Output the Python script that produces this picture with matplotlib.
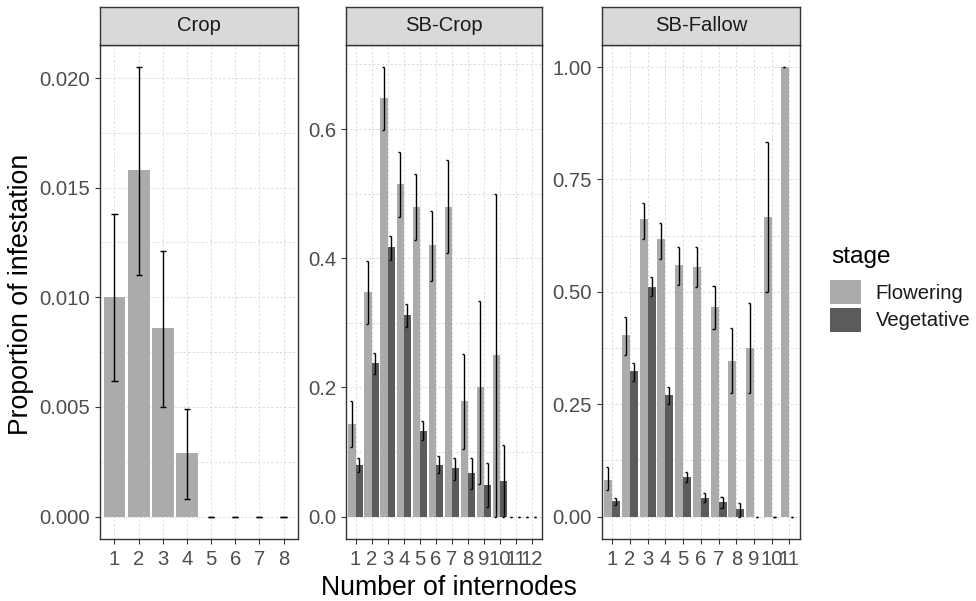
import matplotlib
matplotlib.use("Agg")
import matplotlib.pyplot as plt
from matplotlib.patches import Patch
from matplotlib.ticker import MultipleLocator, FormatStrFormatter
import numpy as np

plt.rcParams['font.family'] = ['Liberation Sans', 'DejaVu Sans']

# ---- data -------------------------------------------------------------
stages = ["Flowering", "Vegetative"]
stage_colors = {"Flowering": "#ABABAB", "Vegetative": "#5B5B5B"}

# Crop (flowering only)
crop_internodes = [1, 2, 3, 4, 5, 6, 7, 8]
crop_flower = [0.0100, 0.0158, 0.0086, 0.0029, 0.0, 0.0, 0.0, 0.0]
crop_flower_lo = [0.0062, 0.0110, 0.0050, 0.0008, 0.0, 0.0, 0.0, 0.0]
crop_flower_hi = [0.0138, 0.0205, 0.0121, 0.0049, 0.0, 0.0, 0.0, 0.0]

# SB-Crop
sbcrop_internodes = [1, 2, 3, 4, 5, 6, 7, 8, 9, 10, 11, 12]
sbcrop_flower = [0.144, 0.347, 0.648, 0.515, 0.480, 0.420, 0.480, 0.179, 0.200, 0.250, 0.0, 0.0]
sbcrop_flower_lo = [0.108, 0.298, 0.598, 0.464, 0.428, 0.364, 0.408, 0.104, 0.050, 0.000, 0.0, 0.0]
sbcrop_flower_hi = [0.179, 0.396, 0.696, 0.565, 0.530, 0.473, 0.552, 0.252, 0.334, 0.500, 0.0, 0.0]
sbcrop_veg = [0.080, 0.237, 0.418, 0.312, 0.133, 0.080, 0.075, 0.067, 0.049, 0.055, 0.0, 0.0]
sbcrop_veg_lo = [0.069, 0.220, 0.397, 0.294, 0.118, 0.068, 0.057, 0.042, 0.014, 0.000, 0.0, 0.0]
sbcrop_veg_hi = [0.090, 0.253, 0.435, 0.329, 0.148, 0.093, 0.090, 0.090, 0.083, 0.110, 0.0, 0.0]

# SB-Fallow
sbfallow_internodes = [1, 2, 3, 4, 5, 6, 7, 8, 9, 10, 11]
sbfallow_flower = [0.082, 0.403, 0.661, 0.617, 0.559, 0.556, 0.467, 0.346, 0.375, 0.667, 1.000]
sbfallow_flower_lo = [0.058, 0.360, 0.618, 0.573, 0.516, 0.511, 0.418, 0.275, 0.275, 0.500, 1.000]
sbfallow_flower_hi = [0.110, 0.445, 0.698, 0.653, 0.599, 0.599, 0.513, 0.420, 0.476, 0.833, 1.000]
sbfallow_veg = [0.034, 0.324, 0.511, 0.271, 0.089, 0.041, 0.032, 0.016, 0.0, 0.0, 0.0]
sbfallow_veg_lo = [0.026, 0.302, 0.491, 0.251, 0.077, 0.032, 0.018, 0.000, 0.0, 0.0, 0.0]
sbfallow_veg_hi = [0.041, 0.342, 0.533, 0.288, 0.100, 0.053, 0.044, 0.030, 0.0, 0.0, 0.0]

panels = [
    dict(title="Crop", x=crop_internodes,
         series={"Flowering": (crop_flower, crop_flower_lo, crop_flower_hi)},
         major=0.005, fmt="%.3f"),
    dict(title="SB-Crop", x=sbcrop_internodes,
         series={"Flowering": (sbcrop_flower, sbcrop_flower_lo, sbcrop_flower_hi),
                 "Vegetative": (sbcrop_veg, sbcrop_veg_lo, sbcrop_veg_hi)},
         major=0.2, fmt="%.1f"),
    dict(title="SB-Fallow", x=sbfallow_internodes,
         series={"Flowering": (sbfallow_flower, sbfallow_flower_lo, sbfallow_flower_hi),
                 "Vegetative": (sbfallow_veg, sbfallow_veg_lo, sbfallow_veg_hi)},
         major=0.25, fmt="%.2f"),
]

# ---- layout (pixels) --------------------------------------------------
W, H = 976, 601
fig = plt.figure(figsize=(W / 100, H / 100), dpi=100)
fig.patch.set_facecolor("white")

panel_x = [(100, 298), (346, 541.7), (601.7, 800)]
strip_top, panel_top, panel_bottom = 7, 44.6, 539

def fbox(x0, x1, ytop, ybot):
    return [x0 / W, 1 - ybot / H, (x1 - x0) / W, (ybot - ytop) / H]

dark = "#333333"
label_size = 14.6
grid_kw = dict(color="#DCDCDC", linewidth=0.7, linestyle=(0, (2.5, 2)))
dodge_total = 0.9

for (x0, x1), p in zip(panel_x, panels):
    ax = fig.add_axes(fbox(x0, x1, panel_top, panel_bottom))
    xs = np.array(p["x"], dtype=float)
    n_groups = len(p["series"])
    bw = dodge_total / n_groups

    ymax = 0.0
    for gi, (stage, (vals, lo, hi)) in enumerate(p["series"].items()):
        offset = -dodge_total / 2 + bw * (gi + 0.5)
        centers = xs + offset
        ax.bar(centers, vals, width=bw, color=stage_colors[stage],
               linewidth=0, zorder=2)
        if n_groups == 1:
            cap_l, cap_r = centers - 0.125, centers + 0.125
        else:
            cap_l, cap_r = centers - 0.125, centers
        ax.vlines(centers, lo, hi, color="black", linewidth=1.0, zorder=3)
        ax.hlines(lo, cap_l, cap_r, color="black", linewidth=1.0, zorder=3)
        ax.hlines(hi, cap_l, cap_r, color="black", linewidth=1.0, zorder=3)
        ymax = max(ymax, max(hi), max(vals))

    ax.set_xlim(0.4, len(xs) + 0.6)
    ax.set_ylim(-0.05 * ymax, 1.05 * ymax)
    ax.set_xticks(xs)
    ax.set_xticklabels([str(int(v)) for v in xs])
    ax.yaxis.set_major_locator(MultipleLocator(p["major"]))
    ax.yaxis.set_minor_locator(MultipleLocator(p["major"] / 2))
    ax.yaxis.set_major_formatter(FormatStrFormatter(p["fmt"]))

    ax.set_axisbelow(True)
    ax.grid(True, which="major", axis="both", **grid_kw)
    ax.grid(True, which="minor", axis="y", **grid_kw)

    for s in ax.spines.values():
        s.set_color(dark)
        s.set_linewidth(1.0)
        s.set_zorder(5)
    ax.tick_params(axis="both", which="major", direction="out", length=3.6,
                   width=0.8, color=dark, labelcolor="#4D4D4D",
                   labelsize=label_size)
    ax.tick_params(axis="x", pad=4.0)
    ax.tick_params(axis="y", pad=3.5)
    ax.tick_params(axis="y", which="minor", length=0)

    # facet strip
    sax = fig.add_axes(fbox(x0, x1, strip_top, panel_top))
    sax.set_facecolor("#D9D9D9")
    sax.set_xticks([])
    sax.set_yticks([])
    for s in sax.spines.values():
        s.set_color(dark)
        s.set_linewidth(1.0)
    sax.text(0.5, 0.5, p["title"], transform=sax.transAxes, ha="center",
             va="center", fontsize=label_size, color="#1A1A1A")

# axis titles
fig.text(448.5 / W, 1 - 588 / H, "Number of internodes", ha="center",
         va="center", fontsize=19.2, color="black")
fig.text(21 / W, 1 - 294 / H, "Proportion of infestation", ha="center",
         va="center", rotation=90, fontsize=19.2, color="black")

# legend
fig.text(831 / W, 1 - 257 / H, "stage", ha="left", va="center",
         fontsize=17.6, color="black")
handles = [Patch(facecolor=stage_colors[s], edgecolor="none", label=s)
           for s in stages]
leg = fig.legend(handles=handles, loc="upper left",
                 bbox_to_anchor=(830 / W, 1 - 280 / H), frameon=False,
                 fontsize=label_size,
                 handlelength=1.53, handleheight=1.45, handletextpad=0.72,
                 labelspacing=0.18, borderpad=0, borderaxespad=0)
for t in leg.get_texts():
    t.set_color("#1A1A1A")

fig.savefig("out.png", dpi=100, facecolor="white")
